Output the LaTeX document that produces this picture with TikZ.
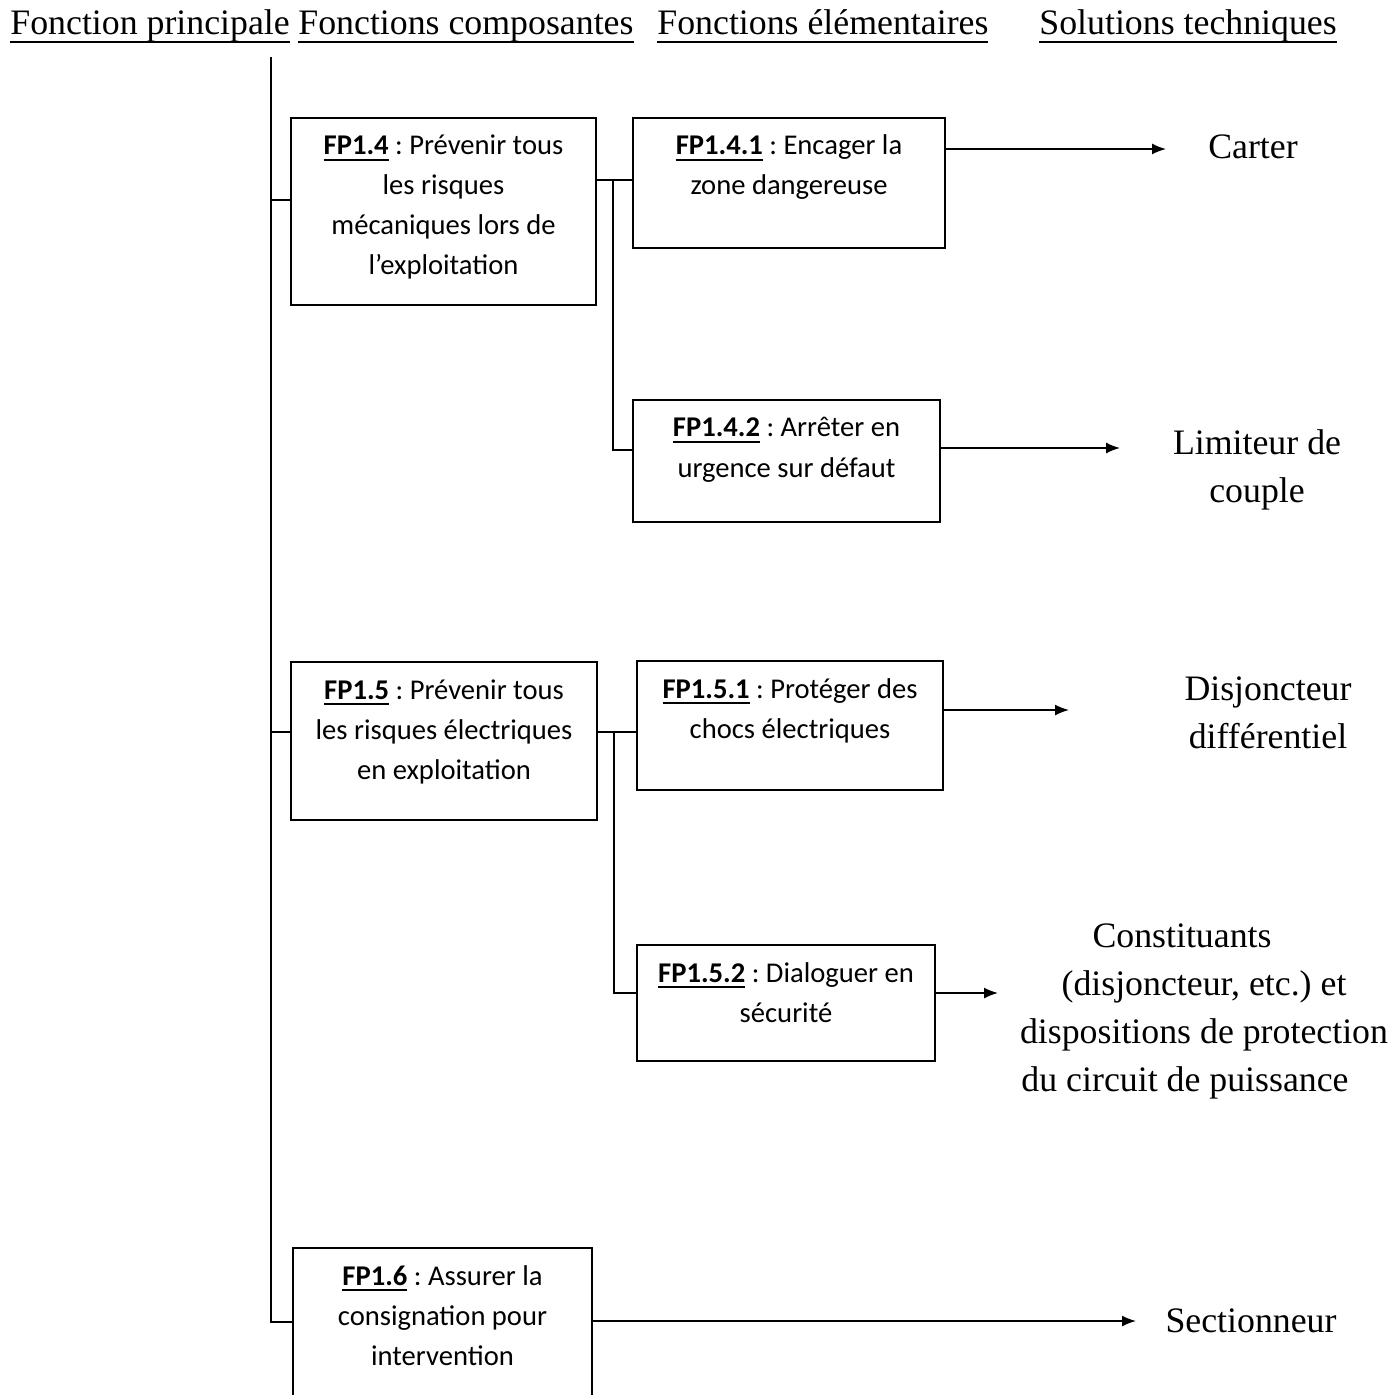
\documentclass[tikz,border=0pt]{standalone}
\usepackage{fontspec}
\setmainfont{Liberation Serif}
\newfontfamily\boxfont{Carlito}
\usetikzlibrary{arrows.meta,calc}
\frenchspacing

% underlined text with a rule at a fixed depth
\newcommand\ulbox[3]{\setbox0\hbox{#3}\rlap{\rule[#1]{\wd0}{#2}}\box0\relax}
\newcommand\hdr[1]{\ulbox{-4pt}{0.9pt}{#1}}
\newcommand\code[1]{\ulbox{-2.8pt}{0.9pt}{\bfseries #1}}
% box body: fixed size, text set from the top
\newcommand\boxbody[3]{\parbox[c][#2][t]{#1}{\centering\rule{0pt}{18.5pt}#3\par}}

\tikzset{
  fbox/.style={draw, line width=1pt, inner sep=0pt, outer sep=0pt, anchor=north west,
    font=\boxfont\fontsize{14.3pt}{20pt}\selectfont},
  hdrtxt/.style={anchor=base west, inner sep=0pt, font=\fontsize{17.9pt}{24pt}\selectfont},
  sol/.style={align=center, inner sep=0pt, font=\fontsize{17.9pt}{24pt}\selectfont},
  link/.style={line width=0.8pt},
  arr/.style={line width=0.8pt, -{Latex[length=7pt,width=5.5pt]}},
}

\begin{document}
\begin{tikzpicture}[x=0.5pt,y=-0.5pt]
\useasboundingbox (0,0) rectangle (1394,1395);
\clip (0,0) rectangle (1394,1395);

% column headings
\node[hdrtxt] (h1) at (10,35)   {\hdr{Fonction principale}};
\node[hdrtxt] (h2) at (298,35)  {\hdr{Fonctions composantes}};
\node[hdrtxt] (h3) at (657,35)  {\hdr{Fonctions élémentaires}};
\node[hdrtxt] (h4) at (1039,35) {\hdr{Solutions techniques}};

% component functions
\node[fbox] (fp14) at (291,118) {\boxbody{152.5pt}{93.5pt}{\code{FP1.4} : Prévenir tous\\les risques\\mécaniques lors de\\l’exploitation}};
\node[fbox] (fp15) at (291,662) {\boxbody{153pt}{79pt}{\code{FP1.5} : Prévenir tous\\les risques électriques\\en exploitation}};
\node[fbox] (fp16) at (293,1248) {\boxbody{149.5pt}{90pt}{\code{FP1.6} : Assurer la\\consignation pour\\intervention}};

% elementary functions
\node[fbox] (fp141) at (633,118) {\boxbody{156pt}{65pt}{\code{FP1.4.1} : Encager la\\zone dangereuse}};
\node[fbox] (fp142) at (633,400) {\boxbody{153.5pt}{61pt}{\code{FP1.4.2} : Arrêter en\\urgence sur défaut}};
\node[fbox] (fp151) at (637,661) {\boxbody{153pt}{64.5pt}{\code{FP1.5.1} : Protéger des\\chocs électriques}};
\node[fbox] (fp152) at (637,945) {\boxbody{149pt}{58pt}{\code{FP1.5.2} : Dialoguer en\\sécurité}};

% technical solutions
\node[sol] (carter) at (1253,147) {Carter};
\node[sol] (limit)  at (1257,470) {Limiteur de\\couple};
\node[sol] (disj)   at (1268,713) {Disjoncteur\\différentiel};
\node[sol] (const)  at (1204,1011) {Constituants\hspace*{22pt}\\(disjoncteur, etc.) et\\dispositions de protection\\du circuit de puissance\hspace*{19pt}};
\node[sol] (sect)   at (1251,1321) {Sectionneur};

% main trunk and its branches
\coordinate (top) at (271,57);
\path (fp14.north west) ++(0,82) coordinate (a14);
\path (fp15.north west) ++(0,70) coordinate (a15);
\path (fp16.north west) ++(0,74) coordinate (a16);
\draw[link] (top) -- (top |- a16) -- (a16);
\draw[link] (top |- a14) -- (a14);
\draw[link] (top |- a15) -- (a15);

% FP1.4 to its elementary functions
\path (fp14.north east) ++(0,62) coordinate (b14);
\coordinate (j14) at (613,0);
\path (fp142.north west) ++(0,50) coordinate (c142);
\draw[link] (b14) -- (b14 -| fp141.west);
\draw[link] (b14 -| j14) |- (c142);

% FP1.5 to its elementary functions
\path (fp15.north east) ++(0,70) coordinate (b15);
\coordinate (j15) at (614,0);
\path (fp152.north west) ++(0,48) coordinate (c152);
\draw[link] (b15) -- (b15 -| fp151.west);
\draw[link] (b15 -| j15) |- (c152);

% arrows towards the solutions
\coordinate (e1) at (1166,0);
\coordinate (e2) at (1120,0);
\coordinate (e3) at (1069,0);
\coordinate (e4) at (998,0);
\coordinate (e5) at (1136,0);
\path (fp141.north east) ++(0,31) coordinate (s1);
\path (fp142.north east) ++(0,48) coordinate (s2);
\path (fp151.north east) ++(0,49) coordinate (s3);
\path (fp152.north east) ++(0,48) coordinate (s4);
\path (fp16.north east)  ++(0,73) coordinate (s5);
\draw[arr] (s1) -- (s1 -| e1);
\draw[arr] (s2) -- (s2 -| e2);
\draw[arr] (s3) -- (s3 -| e3);
\draw[arr] (s4) -- (s4 -| e4);
\draw[arr] (s5) -- (s5 -| e5);
\end{tikzpicture}
\end{document}
